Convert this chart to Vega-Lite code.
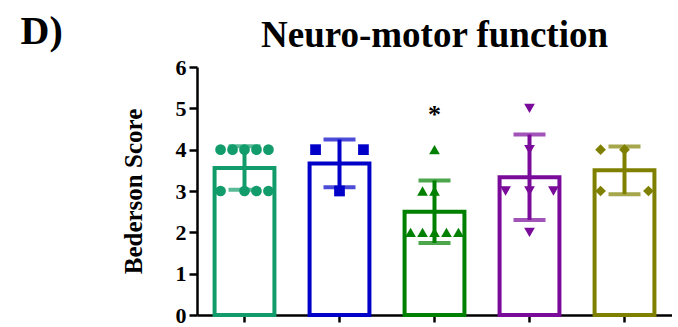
{
  "$schema": "https://vega.github.io/schema/vega-lite/v6.json",
  "background": "white",
  "padding": {"left": 20, "top": 12, "right": 0, "bottom": 0},
  "title": {
    "text": "D)",
    "orient": "left",
    "angle": 0,
    "anchor": "end",
    "align": "right",
    "baseline": "alphabetic",
    "font": "Liberation Serif",
    "fontWeight": "bold",
    "fontSize": 40,
    "color": "black",
    "offset": 16,
    "dy": 27
  },
  "datasets": {
    "scores": [
      {"group": "G1", "score": 4, "slot": -2},
      {"group": "G1", "score": 4, "slot": -1},
      {"group": "G1", "score": 4, "slot": 0},
      {"group": "G1", "score": 4, "slot": 1},
      {"group": "G1", "score": 4, "slot": 2},
      {"group": "G1", "score": 3, "slot": -2},
      {"group": "G1", "score": 3, "slot": 0},
      {"group": "G1", "score": 3, "slot": 1},
      {"group": "G1", "score": 3, "slot": 2},
      {"group": "G2", "score": 4, "slot": -2},
      {"group": "G2", "score": 4, "slot": 2},
      {"group": "G2", "score": 3, "slot": 0},
      {"group": "G3", "score": 4, "slot": 0},
      {"group": "G3", "score": 3, "slot": -1},
      {"group": "G3", "score": 3, "slot": 0},
      {"group": "G3", "score": 2, "slot": -2},
      {"group": "G3", "score": 2, "slot": -1},
      {"group": "G3", "score": 2, "slot": 0},
      {"group": "G3", "score": 2, "slot": 1},
      {"group": "G3", "score": 2, "slot": 2},
      {"group": "G4", "score": 5, "slot": 0},
      {"group": "G4", "score": 4, "slot": 0},
      {"group": "G4", "score": 3, "slot": -2},
      {"group": "G4", "score": 3, "slot": 0},
      {"group": "G4", "score": 3, "slot": 2},
      {"group": "G4", "score": 2, "slot": 0},
      {"group": "G5", "score": 4, "slot": -2},
      {"group": "G5", "score": 4, "slot": 0},
      {"group": "G5", "score": 3, "slot": -2},
      {"group": "G5", "score": 3, "slot": 2}
    ],
    "marks": [
      {"group": "G3", "level": 4.85, "label": "*"}
    ]
  },
  "vconcat": [
    {
      "width": 475,
      "height": 248,
      "title": {
        "text": "Neuro-motor function",
        "font": "Liberation Serif",
        "fontWeight": "bold",
        "fontSize": 37,
        "color": "black",
        "anchor": "middle",
        "frame": "group",
        "offset": 1
      },
      "resolve": {"scale": {"xOffset": "independent"}},
      "encoding": {
        "x": {
          "field": "group",
          "type": "nominal",
          "sort": ["G1", "G2", "G3", "G4", "G5"],
          "scale": {"type": "band", "paddingInner": 0.37, "paddingOuter": 0.185},
          "axis": {
            "title": null,
            "labels": false,
            "ticks": true,
            "tickSize": 7,
            "tickWidth": 2.5,
            "tickColor": "black",
            "domainColor": "black",
            "domainWidth": 2.5
          }
        }
      },
      "layer": [
        {
          "data": {"name": "scores"},
          "mark": {"type": "point", "filled": true, "size": 115, "opacity": 1},
          "encoding": {
            "xOffset": {"field": "slot", "type": "ordinal", "scale": {"type": "point", "domain": [-2, -1, 0, 1, 2], "padding": 0.5}},
            "y": {"field": "score", "type": "quantitative", "title": "Bederson Score", "scale": {"domain": [0, 6], "nice": false},
              "axis": {
                "values": [0, 1, 2, 3, 4, 5, 6],
                "grid": false,
                "labelFont": "Liberation Serif",
                "labelFontWeight": "bold",
                "labelFontSize": 22,
                "labelColor": "black",
                "labelPadding": 3,
                "tickSize": 8,
                "tickWidth": 2.5,
                "tickColor": "black",
                "domainColor": "black",
                "domainWidth": 2.5,
                "titleFont": "Liberation Serif",
                "titleFontWeight": "bold",
                "titleFontSize": 25,
                "titleColor": "black",
                "titlePadding": 29
              }},
            "color": {"field": "group", "type": "nominal", "legend": null,
              "scale": {"domain": ["G1", "G2", "G3", "G4", "G5"], "range": ["#139c6b", "#0000c8", "#008000", "#7a0a9a", "#808000"]}},
            "shape": {"field": "group", "type": "nominal", "legend": null,
              "scale": {"domain": ["G1", "G2", "G3", "G4", "G5"], "range": ["circle", "square", "triangle-up", "triangle-down", "diamond"]}}
          }
        },
        {
          "data": {"name": "scores"},
          "mark": {"type": "bar", "fill": null, "fillOpacity": 0, "strokeWidth": 4},
          "encoding": {
            "y": {"aggregate": "mean", "field": "score", "type": "quantitative", "title": "Bederson Score"},
            "stroke": {"field": "group", "type": "nominal", "legend": null,
              "scale": {"domain": ["G1", "G2", "G3", "G4", "G5"], "range": ["#139c6b", "#0000c8", "#008000", "#7a0a9a", "#808000"]}}
          }
        },
        {
          "data": {"name": "scores"},
          "mark": {"type": "errorbar", "extent": "stdev", "ticks": true, "size": 32, "thickness": 4},
          "encoding": {
            "y": {"field": "score", "type": "quantitative", "title": "Bederson Score"},
            "color": {"field": "group", "type": "nominal", "legend": null}
          }
        },
        {
          "data": {"name": "marks"},
          "mark": {"type": "text", "font": "Liberation Serif", "fontWeight": "bold", "fontSize": 26, "color": "black", "baseline": "middle"},
          "encoding": {
            "y": {"field": "level", "type": "quantitative", "title": "Bederson Score"},
            "text": {"field": "label"}
          }
        }
      ]
    }
  ],
  "config": {
    "view": {"stroke": null},
    "axisY": {
      "labelFont": "Liberation Serif",
      "labelFontWeight": "bold",
      "labelFontSize": 22,
      "labelColor": "black",
      "titleFont": "Liberation Serif",
      "titleFontWeight": "bold",
      "titleFontSize": 25,
      "titleColor": "black"
    }
  }
}
